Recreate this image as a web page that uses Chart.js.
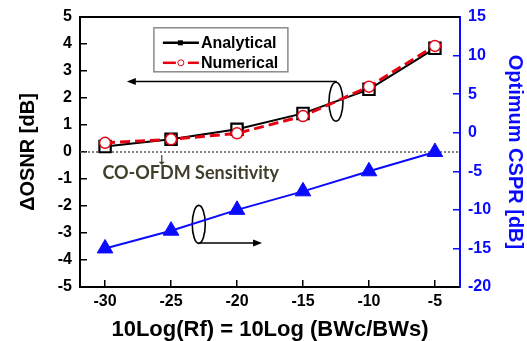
<!DOCTYPE html>
<html><head><meta charset="utf-8">
<script src="https://cdn.jsdelivr.net/npm/chart.js@4.4.0/dist/chart.umd.min.js"></script>
<style>html,body{margin:0;padding:0;background:#fff;overflow:hidden}canvas{display:block}</style>
</head><body>
<canvas id="c" width="527" height="341"></canvas>
<script>
// ---- data ----
const rfDb = [-30, -25, -20, -15, -10, -5];
const analytical = [0.20, 0.47, 0.84, 1.43, 2.32, 3.84];
const numerical = [0.34, 0.47, 0.69, 1.33, 2.42, 3.93];
const optimumCspr = [-15, -12.7, -10, -7.6, -5, -2.5];
const xTicks = [-30, -25, -20, -15, -10, -5];
const leftTicks = [-5, -4, -3, -2, -1, 0, 1, 2, 3, 4, 5];
const rightTicks = [-20, -15, -10, -5, 0, 5, 10, 15];
const seriesLabels = ['Analytical', 'Numerical', 'Optimum CSPR'];
const noteText = 'CO-OFDM Sensitivity';

const pts = (ys) => rfDb.map((x, i) => ({x: x, y: ys[i]}));
const FONT = '"Liberation Sans", Arial, sans-serif';
const RED = '#e60012', BLUE = '#0a0aff';
const noPad = s => { s.paddingTop = 0; s.paddingBottom = 0; s.paddingLeft = 0; s.paddingRight = 0; };

const deco = {
  id: 'deco',
  beforeDatasetsDraw(chart) {
    const {ctx, chartArea: a, scales} = chart;
    const X = v => scales.x.getPixelForValue(v), Y = v => scales.y.getPixelForValue(v);
    ctx.save();
    // top frame line
    ctx.strokeStyle = '#000'; ctx.lineWidth = 2;
    ctx.beginPath(); ctx.moveTo(a.left - 1, a.top); ctx.lineTo(a.right, a.top); ctx.stroke();
    // dotted zero line
    ctx.strokeStyle = '#555'; ctx.lineWidth = 1.5; ctx.setLineDash([2, 2]);
    ctx.beginPath(); ctx.moveTo(a.left, Y(0)); ctx.lineTo(a.right, Y(0)); ctx.stroke();
    ctx.setLineDash([]);
    // small down arrow to sensitivity text
    const sx = X(-25.7);
    ctx.strokeStyle = '#3f3f2c'; ctx.fillStyle = '#3f3f2c'; ctx.lineWidth = 1.2;
    ctx.beginPath(); ctx.moveTo(sx, Y(0) + 3); ctx.lineTo(sx, Y(-0.42)); ctx.stroke();
    ctx.beginPath(); ctx.moveTo(sx - 3, Y(-0.36)); ctx.lineTo(sx + 3, Y(-0.36)); ctx.lineTo(sx, Y(-0.48)); ctx.closePath(); ctx.fill();
    // note text
    ctx.font = 'bold 18px Lato, "Open Sans", sans-serif';
    ctx.textAlign = 'left'; ctx.textBaseline = 'middle';
    ctx.fillText(noteText, X(-30.2), Y(-0.78));
    // upper ellipse + arrow to left axis
    ctx.strokeStyle = '#000'; ctx.fillStyle = '#000'; ctx.lineWidth = 1.6;
    const ex = X(-12.5), ey = Y(1.86);
    ctx.beginPath(); ctx.ellipse(ex, ey, 7, 19.5, 0, 0, Math.PI * 2); ctx.stroke();
    const ay = Y(2.61), ax = X(-28.35);
    ctx.beginPath(); ctx.moveTo(ex, ey - 19.5); ctx.lineTo(ex, ay); ctx.lineTo(ax + 6, ay); ctx.stroke();
    ctx.beginPath(); ctx.moveTo(ax, ay); ctx.lineTo(ax + 9, ay - 3.5); ctx.lineTo(ax + 9, ay + 3.5); ctx.closePath(); ctx.fill();
    // lower ellipse + arrow to right axis
    const fx = X(-22.9), fy = Y(-2.68);
    ctx.beginPath(); ctx.ellipse(fx, fy, 6.5, 19, 0, 0, Math.PI * 2); ctx.stroke();
    const by = Y(-3.37), bx = X(-18.1);
    ctx.beginPath(); ctx.moveTo(fx, by); ctx.lineTo(bx - 6, by); ctx.stroke();
    ctx.beginPath(); ctx.moveTo(bx, by); ctx.lineTo(bx - 9, by - 3.5); ctx.lineTo(bx - 9, by + 3.5); ctx.closePath(); ctx.fill();
    ctx.restore();
  },
  afterDraw(chart) {
    const {ctx, scales} = chart;
    const X = v => scales.x.getPixelForValue(v), Y = v => scales.y.getPixelForValue(v);
    const ds = chart.data.datasets;
    ctx.save();
    const bx = X(-26.3), by = Y(4.6), bw = 134, bh = 44;
    ctx.fillStyle = '#fff'; ctx.fillRect(bx, by, bw, bh);
    ctx.strokeStyle = '#8a8a8a'; ctx.lineWidth = 1.5; ctx.strokeRect(bx, by, bw, bh);
    const r1 = by + 15, r2 = by + 35, lx = bx + 9;
    // row 1
    ctx.strokeStyle = '#000'; ctx.lineWidth = 2.5;
    ctx.beginPath(); ctx.moveTo(lx, r1); ctx.lineTo(lx + 36, r1); ctx.stroke();
    ctx.fillStyle = '#000'; ctx.fillRect(lx + 15, r1 - 2.5, 5, 5);
    // row 2
    ctx.strokeStyle = RED; ctx.lineWidth = 2.5;
    ctx.beginPath(); ctx.moveTo(lx, r2); ctx.lineTo(lx + 13, r2); ctx.stroke();
    ctx.beginPath(); ctx.moveTo(lx + 25, r2); ctx.lineTo(lx + 36, r2); ctx.stroke();
    ctx.fillStyle = '#fff'; ctx.lineWidth = 1;
    ctx.beginPath(); ctx.arc(lx + 18, r2, 3, 0, Math.PI * 2); ctx.fill(); ctx.stroke();
    ctx.fillStyle = '#000'; ctx.font = 'bold 16px ' + FONT;
    ctx.textAlign = 'left'; ctx.textBaseline = 'middle';
    ctx.fillText(ds[0].label, lx + 38, r1 + 1);
    ctx.fillText(ds[1].label, lx + 38, r2 + 1);
    ctx.restore();
  }
};

new Chart(document.getElementById('c'), {
  type: 'line',
  data: {
    datasets: [
      {label: seriesLabels[0], data: pts(analytical), yAxisID: 'y', order: 1,
       borderColor: '#000', borderWidth: 2, pointStyle: 'rect', pointRadius: 8,
       pointBackgroundColor: '#fff', pointBorderColor: '#000', pointBorderWidth: 2.2},
      {label: seriesLabels[1], data: pts(numerical), yAxisID: 'y', order: 0,
       borderColor: RED, borderWidth: 3, borderDash: [10, 5], pointStyle: 'circle', pointRadius: 5.5,
       pointBackgroundColor: '#fff', pointBorderColor: RED, pointBorderWidth: 1.5},
      {label: seriesLabels[2], data: pts(optimumCspr), yAxisID: 'y2', order: 2,
       borderColor: BLUE, borderWidth: 2, pointStyle: 'triangle', pointRadius: 9,
       pointBackgroundColor: BLUE, pointBorderColor: BLUE, pointBorderWidth: 1}
    ]
  },
  options: {
    responsive: false, animation: false, devicePixelRatio: 1,
    layout: {padding: {top: 17, left: 0, right: 0, bottom: 0}},
    plugins: {legend: {display: false}, tooltip: {enabled: false}},
    elements: {line: {tension: 0}},
    scales: {
      x: {
        type: 'linear', position: 'bottom', min: -31.9, max: -3.1,
        afterBuildTicks: s => { s.ticks = xTicks.map(v => ({value: v})); },
        afterFit: s => { s.height = 54; noPad(s); },
        ticks: {font: {family: FONT, weight: 'bold', size: 16}, color: '#000', padding: 12,
                maxRotation: 0, autoSkip: false, callback: v => String(v)},
        grid: {drawOnChartArea: false, drawTicks: true, tickLength: -7, color: '#000', lineWidth: 1.5},
        border: {color: '#000', width: 2},
        title: {display: true, text: '10Log(Rf) = 10Log (BWc/BWs)', color: '#000',
                font: {family: FONT, weight: 'bold', size: 22, lineHeight: 1}, padding: {top: 0, bottom: 0}}
      },
      y: {
        type: 'linear', position: 'left', min: -5, max: 5,
        afterBuildTicks: s => { s.ticks = leftTicks.map(v => ({value: v})); },
        afterFit: s => { s.width = 80; noPad(s); },
        ticks: {font: {family: FONT, weight: 'bold', size: 16}, color: '#000', padding: 15, callback: v => String(v)},
        grid: {drawOnChartArea: false, drawTicks: true, tickLength: -7, color: '#000', lineWidth: 1.5},
        border: {color: '#000', width: 2},
        title: {display: true, text: 'ΔOSNR [dB]', color: '#000',
                font: {family: FONT, weight: 'bold', size: 20, lineHeight: 1}, padding: {top: 18, bottom: 0}}
      },
      y2: {
        type: 'linear', position: 'right', min: -20, max: 15,
        afterBuildTicks: s => { s.ticks = rightTicks.map(v => ({value: v})); },
        afterFit: s => { s.width = 67; noPad(s); },
        ticks: {font: {family: FONT, weight: 'bold', size: 16}, color: BLUE, padding: 15, callback: v => String(v)},
        grid: {drawOnChartArea: false, drawTicks: true, tickLength: -7, color: BLUE, lineWidth: 1.5},
        border: {color: BLUE, width: 2},
        title: {display: true, text: 'Optimum CSPR [dB]', color: BLUE,
                font: {family: FONT, weight: 'bold', size: 20, lineHeight: 1}, padding: {top: 2, bottom: 0}}
      }
    }
  },
  plugins: [deco]
});
</script>
</body></html>
